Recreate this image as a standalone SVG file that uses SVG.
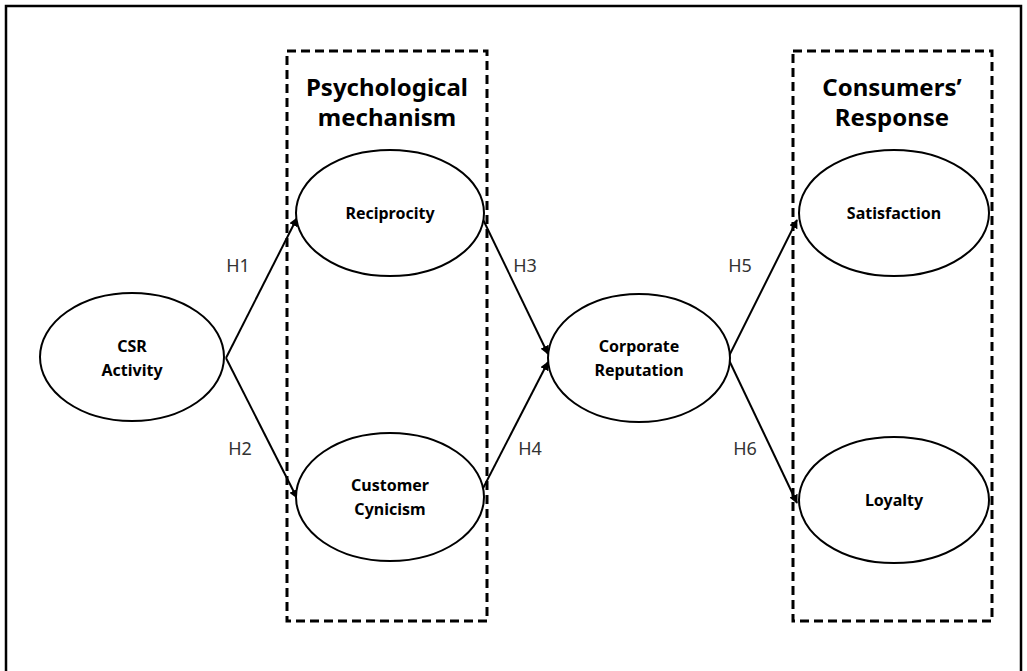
<svg xmlns="http://www.w3.org/2000/svg" width="1027" height="671" viewBox="0 0 1027 671">
<defs>
<marker id="ah" viewBox="0 0 10 10" refX="9" refY="5" markerWidth="9" markerHeight="9" markerUnits="userSpaceOnUse" orient="auto">
<path d="M0,0 L10,5 L0,10 z" fill="#000"/>
</marker>
</defs>
<style>
.frame{fill:none;stroke:#000;stroke-width:2.5}
.box{fill:none;stroke:#000;stroke-width:3;stroke-dasharray:9,5}
.node{fill:#fff;stroke:#000;stroke-width:2}
.lbl{font-family:"Noto Sans","Open Sans",sans-serif;font-weight:bold;font-size:16px;text-anchor:middle;fill:#000}
.head{font-family:"Noto Sans","Open Sans",sans-serif;font-weight:bold;font-size:24px;text-anchor:middle;fill:#000}
.h{font-family:"Noto Sans","Open Sans",sans-serif;font-size:18px;text-anchor:middle;fill:#333}
.edge{fill:none;stroke:#000;stroke-width:2;marker-end:url(#ah)}
</style>
<rect width="1027" height="671" fill="#fff"/>
<path class="frame" d="M6,680 L6,6 L1021,6 L1021,680"/>
<g id="group-psych">
<rect class="box" x="287" y="51" width="200" height="570"/>
<text class="head" x="387" y="96">Psychological</text>
<text class="head" x="387" y="126">mechanism</text>
</g>
<g id="group-response">
<rect class="box" x="793" y="51" width="199" height="570"/>
<text class="head" x="892" y="96">Consumers’</text>
<text class="head" x="892" y="126">Response</text>
</g>
<g id="connectors">
<path class="edge" d="M226,358 L297,218"/>
<path class="edge" d="M226,358 L297,498"/>
<path class="edge" d="M477,207 L548,354"/>
<path class="edge" d="M477,500 L548,362"/>
<path class="edge" d="M728,358 L797,220"/>
<path class="edge" d="M728,358 L797,503"/>
<text class="h" x="238" y="272">H1</text>
<text class="h" x="240" y="455">H2</text>
<text class="h" x="525" y="272">H3</text>
<text class="h" x="530" y="455">H4</text>
<text class="h" x="740" y="272">H5</text>
<text class="h" x="745" y="455">H6</text>
</g>
<g id="csr">
<ellipse class="node" cx="132" cy="357" rx="92" ry="64"/>
<text class="lbl" x="132" y="352">CSR</text>
<text class="lbl" x="132" y="376">Activity</text>
</g>
<g id="reciprocity">
<ellipse class="node" cx="390" cy="213" rx="94" ry="63"/>
<text class="lbl" x="390" y="219">Reciprocity</text>
</g>
<g id="cynicism">
<ellipse class="node" cx="390" cy="497" rx="94" ry="64"/>
<text class="lbl" x="390" y="491">Customer</text>
<text class="lbl" x="390" y="515">Cynicism</text>
</g>
<g id="reputation">
<ellipse class="node" cx="639" cy="358" rx="91" ry="64"/>
<text class="lbl" x="639" y="352">Corporate</text>
<text class="lbl" x="639" y="376">Reputation</text>
</g>
<g id="satisfaction">
<ellipse class="node" cx="894" cy="213" rx="95" ry="63"/>
<text class="lbl" x="894" y="219">Satisfaction</text>
</g>
<g id="loyalty">
<ellipse class="node" cx="894" cy="500" rx="95" ry="63"/>
<text class="lbl" x="894" y="506">Loyalty</text>
</g>
</svg>
